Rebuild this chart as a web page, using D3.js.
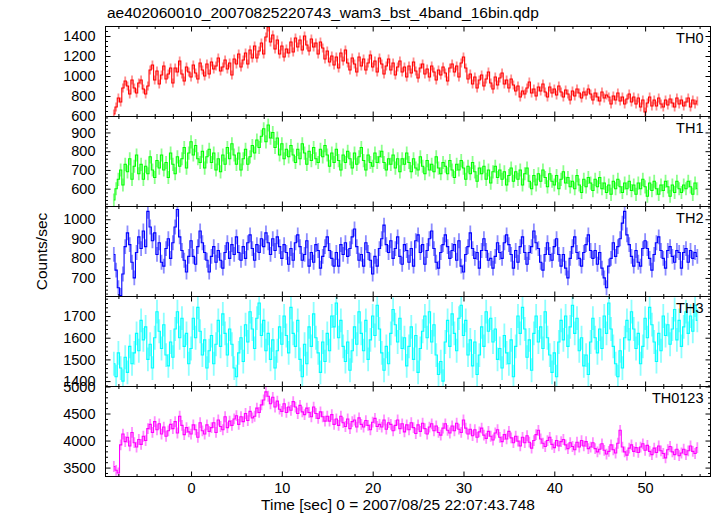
<!DOCTYPE html>
<html><head><meta charset="utf-8">
<script src="https://cdn.jsdelivr.net/npm/d3@7"></script>
<style>
body{margin:0;background:#fff}
svg{display:block}
text{font-family:"Liberation Sans",Arial,Helvetica,sans-serif;fill:#000}
</style>
</head><body>
<svg id="c" width="717" height="516"></svg>
<script>
const chartTitle = "ae402060010_20070825220743_wam3_bst_4band_16bin.qdp";
const xLabel = "Time [sec] 0 = 2007/08/25 22:07:43.748";
const yLabel = "Counts/sec";
const bandNames = ["TH0","TH1","TH2","TH3","TH0123"];
const startTime = -8.5, binSize = 0.25;

const th0 = [
620,690,
780,740,880,950, 900,820,960,880, 830,930,960,870, 820,900,1060,1110,
960,1050,920,1010, 1100,970,1020,1080, 930,1080,1040,1150, 1020,950,1090,1040,
990,1110,1030,970, 1130,1060,1000,1120, 1020,1140,1070,1100, 1180,1050,1090,1160,
1070,1130,1010,1170, 1120,1220,1090,1160, 1230,1120,1260,1180, 1300,1180,1250,1330,
1220,1390,1490,1340, 1410,1270,1360,1220, 1300,1190,1270,1230, 1340,1240,1380,1290,
1360,1260,1400,1310, 1250,1370,1290,1330, 1220,1340,1280,1170, 1250,1140,1200,1110,
1190,1080,1230,1150, 1260,1130,1060,1180, 1120,1040,1190,1100, 1170,1060,1130,1210,
1090,1150,1040,1180, 1120,1020,1100,1170, 1060,1130,1010,1090, 1150,1040,1090,990,
1100,1030,1140,1050, 980,1080,1120,1020, 1070,990,1100,1040, 960,1060,1010,1090,
1030,950,1080,1120, 1040,1100,990,1130, 1190,1080,970,1020, 920,990,880,960,
1010,900,970,1040, 930,870,990,910, 980,1030,920,960, 880,970,910,850,
900,790,850,820, 880,940,830,870, 800,890,850,920, 840,790,890,830,
870,810,900,840, 790,860,820,760, 850,800,870,830, 780,840,810,870,
820,760,830,790, 750,840,780,810, 790,720,800,760, 830,750,790,720,
770,820,740,790, 720,780,690,760, 640,730,790,700, 760,700,780,720,
690,760,710,770, 730,690,780,720, 760,700,740,780, 690,760,720,750
];
const th1 = [
540,600,
650,700,620,730, 690,760,650,720, 780,680,730,650, 720,680,770,700,
660,750,710,780, 700,740,660,790, 730,680,770,720, 760,820,710,790,
850,780,830,760, 740,800,710,770, 810,740,790,700, 760,690,780,730,
820,760,840,780, 730,790,700,760, 810,730,770,830, 790,860,820,880,
920,850,940,870, 900,820,870,780, 840,760,810,770, 830,780,740,810,
760,840,790,730, 800,750,820,760, 740,810,770,830, 780,720,790,740,
810,750,700,780, 740,800,760,710, 790,730,770,820, 750,700,780,740,
720,790,740,770, 800,740,700,760, 730,780,710,760, 690,760,730,790,
740,690,760,710, 700,770,720,680, 750,700,730,690, 770,710,680,740,
720,680,750,700, 660,730,700,750, 710,650,720,680, 740,690,640,710,
680,720,650,700, 630,690,720,660, 700,650,690,620, 670,710,640,690,
650,700,620,680, 710,640,600,670, 620,680,640,700, 660,610,680,640,
620,670,600,650, 690,630,660,610, 640,600,670,620, 580,650,610,660,
630,590,650,610, 660,600,630,580, 620,570,640,600, 650,610,580,630,
600,640,590,620, 570,630,600,650, 610,560,630,590, 640,600,570,620,
590,640,610,560, 620,580,640,600, 580,620,600,640, 610,570,630,600
];
const th2 = [
820,740,
650,610,720,860, 930,870,780,700, 830,910,850,940, 860,1040,960,890,
930,820,880,780, 760,850,900,800, 880,960,1050,910, 840,790,730,810,
890,810,770,860, 940,880,830,790, 730,810,860,780, 840,790,750,830,
880,800,870,820, 910,830,790,860, 800,880,920,850, 790,870,830,900,
860,930,880,820, 900,840,910,860, 800,870,830,770, 850,790,880,920,
860,790,820,890, 760,830,780,870, 840,750,810,860, 910,840,800,760,
830,760,870,820, 880,810,850,910, 950,860,790,820, 760,880,830,790,
720,810,760,850, 900,970,870,830, 890,800,850,910, 810,770,870,840,
780,850,760,890, 920,830,870,770, 840,900,940,850, 780,750,830,870,
920,860,800,840, 870,790,890,760, 730,820,860,930, 850,800,830,750,
840,900,840,790, 800,750,810,880, 830,800,880,920, 870,820,750,840,
780,860,910,830, 770,830,860,940, 880,850,780,740, 820,880,820,790,
860,900,820,760, 820,750,700,800, 860,910,830,800, 760,830,870,920,
840,800,840,770, 830,750,700,650, 760,800,880,810, 860,900,980,1040,
920,870,810,760, 840,780,760,850, 890,850,800,740, 820,880,910,840,
800,750,840,860, 810,780,840,830, 750,830,850,780, 840,800,830,810
];
const th3 = [
1480,1420,
1530,1460,1400,1510, 1440,1560,1480,1530, 1620,1540,1680,1590, 1650,1500,1570,1460,
1600,1720,1630,1550, 1660,1520,1470,1580, 1510,1640,1720,1600, 1690,1560,1620,1480,
1550,1690,1600,1740, 1630,1520,1590,1460, 1540,1610,1480,1570, 1680,1560,1710,1620,
1520,1640,1570,1460, 1420,1530,1600,1490, 1660,1580,1720,1640, 1550,1690,1760,1610,
1680,1540,1620,1500, 1590,1460,1540,1650, 1570,1700,1610,1530, 1740,1620,1560,1680,
1500,1420,1570,1480, 1650,1560,1710,1600, 1530,1440,1580,1490, 1620,1540,1700,1650,
1760,1600,1680,1560, 1490,1580,1450,1540, 1650,1570,1720,1620, 1540,1680,1500,1590,
1700,1610,1750,1640, 1530,1450,1560,1480, 1620,1730,1660,1580, 1690,1550,1600,1470,
1560,1650,1500,1610, 1440,1550,1630,1700, 1600,1720,1580,1660, 1520,1430,1490,1400,
1580,1680,1560,1710, 1620,1540,1690,1750, 1610,1680,1520,1590, 1470,1580,1430,1520,
1650,1560,1720,1630, 1690,1580,1640,1500, 1550,1460,1610,1530, 1480,1590,1420,1560,
1700,1620,1740,1640, 1510,1590,1450,1620, 1700,1580,1650,1550, 1720,1600,1520,1440,
1530,1420,1580,1680, 1590,1700,1560,1650, 1750,1620,1690,1540, 1600,1470,1520,1430,
1580,1690,1600,1530, 1640,1550,1700,1620, 1760,1640,1560,1480, 1420,1540,1460,1600,
1680,1590,1720,1640, 1550,1620,1480,1560, 1690,1600,1740,1660, 1580,1490,1620,1540,
1700,1610,1660,1570, 1640,1730,1590,1680, 1560,1650,1720,1620, 1700,1630,1750,1680
];
const th0123 = [
3520,3450,
3400,3920,4120,3980, 4060,3900,4150,3960, 3880,4020,3930,4080, 4000,4220,4300,4150,
4350,4200,4310,4120, 4250,4080,4180,4300, 4220,4350,4140,4450, 4280,4110,4240,4160,
4120,4290,4200,4060, 4330,4180,4120,4290, 4170,4240,4330,4150, 4380,4260,4200,4440,
4240,4360,4280,4400, 4460,4300,4440,4350, 4500,4370,4540,4420, 4450,4600,4520,4660,
4750,4900,4820,4680, 4800,4620,4730,4580, 4540,4680,4520,4620, 4560,4720,4620,4500,
4650,4530,4480,4600, 4520,4440,4620,4500, 4410,4530,4440,4360, 4450,4360,4480,4300,
4400,4280,4450,4330, 4260,4400,4220,4350, 4380,4250,4420,4300, 4250,4370,4280,4200,
4340,4410,4260,4300, 4250,4380,4210,4330, 4300,4180,4280,4380, 4220,4310,4160,4290,
4200,4330,4240,4130, 4290,4170,4320,4220, 4120,4250,4310,4180, 4270,4150,4100,4230,
4310,4190,4140,4270, 4180,4320,4210,4150, 4380,4230,4120,4210, 4090,4200,4060,4160,
4230,4100,4040,4170, 4080,4010,4140,4200, 4060,3980,4110,4030, 4170,4050,3960,4080,
3990,3900,4060,3960, 4090,3970,3860,4000, 4110,4190,4030,3950, 3890,4000,4060,3930,
3870,4000,3900,3980, 4020,3920,3850,3960, 3890,3830,3970,3880, 4000,3900,3980,3850,
3880,3960,3850,3790, 3840,3940,3820,3750, 3800,3920,3830,3770, 3950,4190,3880,3790,
3730,3860,3920,3800, 3870,3780,3880,3940, 3820,3910,3800,3740, 3860,3780,3900,3810,
3760,3680,3830,3890, 3790,3740,3840,3720, 3770,3840,3740,3810, 3900,3800,3760,3870
];
const bandSeries = [th0, th1, th2, th3, th0123];
const bandErrors = [45, 35, 38, 55, 100];

const xTickValues = [0, 10, 20, 30, 40, 50];
const xMinorValues = [-8,-6,-4,-2,2,4,6,8,12,14,16,18,22,24,26,28,32,34,36,38,42,44,46,48,52,54,56];
const yTickSets = [
  [600, 800, 1000, 1200, 1400],
  [600, 700, 800, 900],
  [700, 800, 900, 1000],
  [1400, 1500, 1600, 1700],
  [3500, 4000, 4500, 5000]
];
const yMinorSteps = [50, 20, 20, 20, 100];
const yDomains = [[595,1495],[505,985],[605,1065],[1375,1790],[3335,5000]];
const bandColors = ["#ff0000","#00ff00","#0000ff","#00ffff","#ff00ff"];

const L = 105.5, R = 710.5, T = 26.5, B = 476.5;
const ph = (B - T) / bandSeries.length;
const x = d3.scaleLinear().domain([-9.42, 57.2]).range([L, R]);
const svg = d3.select("#c");
const FS = 14.5;

bandSeries.forEach((vals, i) => {
  const top = T + i * ph;
  const y = d3.scaleLinear().domain(yDomains[i]).range([top + ph, top]);
  const data = vals.map((v, j) => ({t: startTime + j * binSize, v}));
  const clipId = "clip" + i;
  svg.append("clipPath").attr("id", clipId).append("rect")
    .attr("x", L).attr("y", top).attr("width", R - L).attr("height", ph);
  const dg = svg.append("g").attr("clip-path", `url(#${clipId})`);
  dg.selectAll("line.err").data(data).join("line").attr("class","err")
    .attr("x1", d => x(d.t)).attr("x2", d => x(d.t))
    .attr("y1", d => y(d.v - bandErrors[i])).attr("y2", d => y(d.v + bandErrors[i]))
    .attr("stroke", bandColors[i]).attr("stroke-opacity", 0.45).attr("stroke-width", 1.8);
  dg.append("path").datum(data)
    .attr("d", d3.line().x(d => x(d.t)).y(d => y(d.v)).curve(d3.curveStep))
    .attr("fill", "none").attr("stroke", bandColors[i]).attr("stroke-width", 1.1);

  const [d0, d1] = yDomains[i];
  const minor = d3.range(Math.ceil(d0 / yMinorSteps[i]) * yMinorSteps[i], d1, yMinorSteps[i])
    .filter(v => !yTickSets[i].includes(v));

  const styleAxis = g => { g.select(".domain").remove(); g.selectAll("line").attr("stroke","#000").attr("stroke-width",1); };

  svg.append("g").attr("transform", `translate(${L},0)`)
    .call(d3.axisLeft(y).tickValues(yTickSets[i]).tickSize(-5).tickSizeOuter(0).tickPadding(10).tickFormat(d3.format("d")))
    .call(styleAxis)
    .call(g => g.selectAll("text").attr("font-size", FS).attr("font-family", null));
  svg.append("g").attr("transform", `translate(${L},0)`)
    .call(d3.axisLeft(y).tickValues(minor).tickSize(-2.5).tickSizeOuter(0).tickFormat(""))
    .call(styleAxis);
  svg.append("g").attr("transform", `translate(${R},0)`)
    .call(d3.axisRight(y).tickValues(yTickSets[i]).tickSize(-5).tickSizeOuter(0).tickFormat(""))
    .call(styleAxis);
  svg.append("g").attr("transform", `translate(${R},0)`)
    .call(d3.axisRight(y).tickValues(minor).tickSize(-2.5).tickSizeOuter(0).tickFormat(""))
    .call(styleAxis);
  svg.append("g").attr("transform", `translate(0,${top})`)
    .call(d3.axisTop(x).tickValues(xTickValues).tickSize(-5).tickSizeOuter(0).tickFormat(""))
    .call(styleAxis);
  svg.append("g").attr("transform", `translate(0,${top})`)
    .call(d3.axisTop(x).tickValues(xMinorValues).tickSize(-2.5).tickSizeOuter(0).tickFormat(""))
    .call(styleAxis);
  const isLast = i === bandSeries.length - 1;
  svg.append("g").attr("transform", `translate(0,${top + ph})`)
    .call(d3.axisBottom(x).tickValues(xTickValues).tickSize(-5).tickSizeOuter(0).tickPadding(6)
      .tickFormat(isLast ? d3.format("d") : ""))
    .call(styleAxis)
    .call(g => g.selectAll("text").attr("font-size", FS).attr("font-family", null));
  svg.append("g").attr("transform", `translate(0,${top + ph})`)
    .call(d3.axisBottom(x).tickValues(xMinorValues).tickSize(-2.5).tickSizeOuter(0).tickFormat(""))
    .call(styleAxis);

  svg.append("rect").attr("x", L).attr("y", top).attr("width", R - L).attr("height", ph)
    .attr("fill", "none").attr("stroke", "#000").attr("stroke-width", 1);

  svg.append("text").attr("x", R - 7).attr("y", top + 16.5).attr("text-anchor", "end")
    .attr("font-size", FS).text(bandNames[i]);
});

svg.append("text").attr("x", 107).attr("y", 18).attr("font-size", 15.5).text(chartTitle);
svg.append("text").attr("x", 398).attr("y", 510).attr("text-anchor", "middle")
  .attr("font-size", 15.5).text(xLabel);
svg.append("text").attr("transform", `translate(47,${(T + B) / 2}) rotate(-90)`)
  .attr("text-anchor", "middle").attr("font-size", 15.5).text(yLabel);
</script>
</body></html>
